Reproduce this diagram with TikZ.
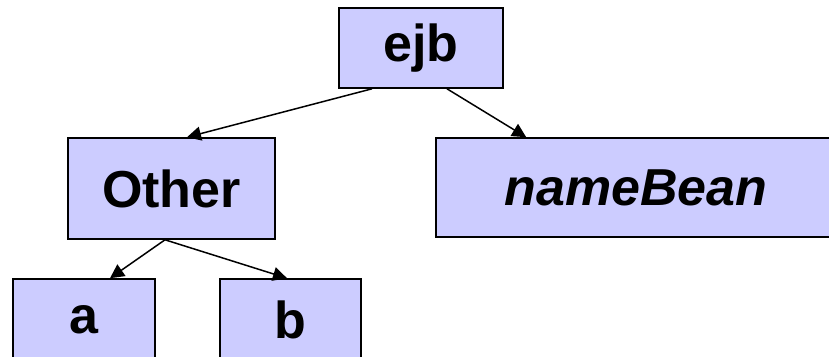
\documentclass[tikz,border=0pt]{standalone}
\usepackage{fontspec}
\setmainfont{Liberation Sans}
\usetikzlibrary{arrows.meta,calc}
\definecolor{boxfill}{HTML}{CCCCFF}
\tikzset{
  treebox/.style={draw=black, line width=1.6pt, fill=boxfill, rectangle,
    inner sep=0pt, font=\fontsize{52}{52}\selectfont\bfseries},
  link/.style={draw=black, line width=1.5pt,
    -{Triangle[length=14pt,width=14pt]}}
}
\begin{document}
\begin{tikzpicture}[x=1pt,y=-1pt]
\useasboundingbox (0,0) rectangle (829,356);
\clip (0,0) rectangle (829,356);
\fill[white] (0,0) rectangle (829,356);

% tree nodes (centre, width x height)
\node[treebox, minimum width=164pt, minimum height=80pt] (ejb) at (421,48) {ejb};
\node[treebox, minimum width=207pt, minimum height=101pt] (other) at (171.5,188.5) {Other};
\node[treebox, minimum width=400pt, minimum height=99pt] (bean) at (636,187.5) {\itshape nameBean};
\node[treebox, minimum width=142pt, minimum height=82pt] (a) at (84,320) {a};
\node[treebox, minimum width=141pt, minimum height=82pt] (b) at (290.5,320) {b};

% connectors
\draw[link] ($(ejb.south)+(-49,0)$) -- ($(other.north)+(15.5,0)$);
\draw[link] ($(ejb.south)+(26,0)$) -- ($(bean.north west)+(91,0)$);
\draw[link] ($(other.south)+(-6.5,0)$) -- ($(a.north)+(26,0)$);
\draw[link] ($(other.south)+(-6.5,0)$) -- ($(b.north)+(-3.5,0)$);
\end{tikzpicture}
\end{document}
